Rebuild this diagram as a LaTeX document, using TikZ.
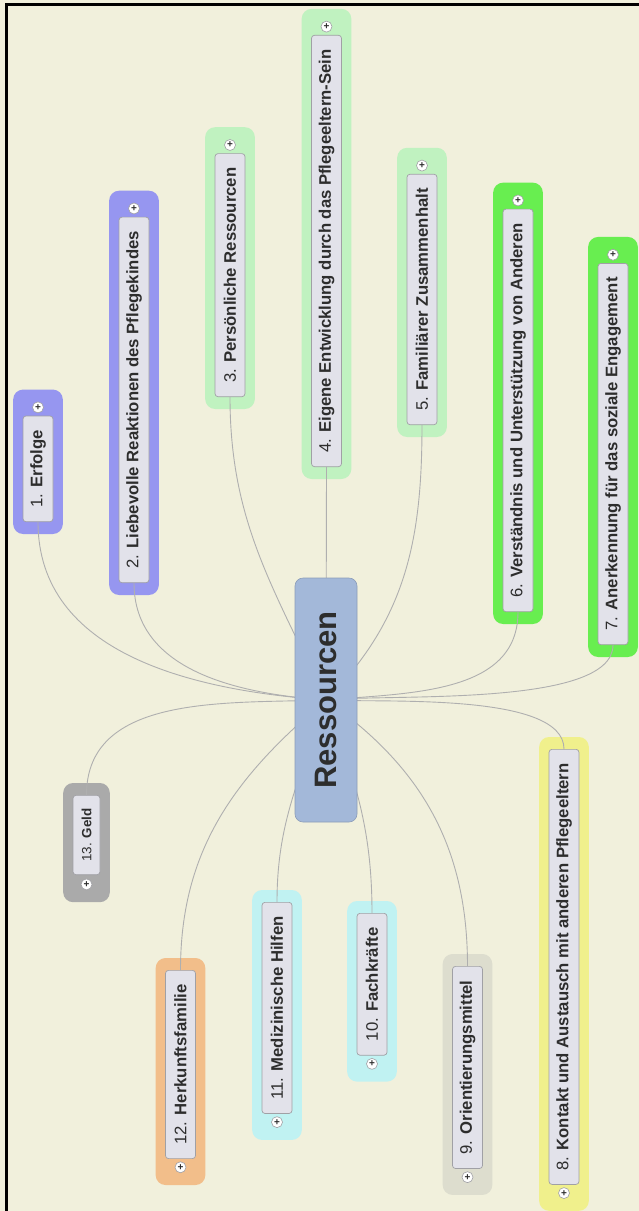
\documentclass[tikz,border=0pt]{standalone}
\usepackage{fontspec}
\setmainfont{Liberation Sans}
\usepackage{tikz}
\usetikzlibrary{positioning, fit, backgrounds}

\definecolor{paper}{RGB}{241, 240, 220}
\definecolor{boxFill}{RGB}{226, 226, 234}
\definecolor{boxLine}{RGB}{160, 160, 165}
\definecolor{linkGrey}{RGB}{175, 175, 175}
\definecolor{textGrey}{RGB}{45, 45, 45}
\definecolor{hubBlue}{RGB}{163, 184, 217}
\definecolor{haloViolet}{RGB}{150, 150, 240}
\definecolor{haloMint}{RGB}{192, 242, 192}
\definecolor{haloGreen}{RGB}{104, 238, 80}
\definecolor{haloYellow}{RGB}{240, 240, 140}
\definecolor{haloStone}{RGB}{221, 221, 206}
\definecolor{haloCyan}{RGB}{192, 242, 242}
\definecolor{haloOrange}{RGB}{242, 190, 138}
\definecolor{haloGrey}{RGB}{170, 170, 170}

\begin{document}
\begin{tikzpicture}[
    x=1pt, y=1pt,
    topic/.style={rectangle, rotate=90, draw=boxLine, fill=boxFill, line width=0.7pt,
                  rounded corners=3pt, minimum height=30pt, inner xsep=14pt, inner ysep=0pt,
                  text=textGrey, font=\fontsize{16.7}{20}\selectfont},
    smalltopic/.style={topic, minimum height=27pt, inner xsep=13pt,
                  font=\fontsize{13.4}{16}\selectfont},
    plus/.style={circle, draw=boxLine, fill=white, line width=0.6pt, minimum size=11pt,
                 inner sep=0pt, text=textGrey, font=\fontsize{10}{10}\bfseries\selectfont},
    halo/.style={rectangle, rounded corners=10pt, inner xsep=9.5pt, inner ysep=12pt},
    link/.style={draw=linkGrey, line width=0.9pt},
    hub/.style={rectangle, rotate=90, draw=hubBlue!85!black, fill=hubBlue, line width=0.6pt,
                rounded corners=8pt, minimum width=244pt, minimum height=62pt,
                text=textGrey, font=\fontsize{31}{36}\bfseries\selectfont},
  ]
  \useasboundingbox (0,0) rectangle (639,-1211);
  \begin{scope}[on background layer]
    \fill[paper] (0,0) rectangle (639,-1211);
  \end{scope}

  % upper branches
  \node[topic, anchor=west] (erfolge) at (38,-522) {1. \textbf{Erfolge}};
  \node[plus, above=2.5pt of erfolge.east] (erfolgeP) {+};

  \node[topic, anchor=west] (reaktion) at (134,-583) {2. \textbf{Liebevolle Reaktionen des Pflegekindes}};
  \node[plus, above=2.5pt of reaktion.east] (reaktionP) {+};

  \node[topic, anchor=west] (person) at (230,-397) {3. \textbf{Persönliche Ressourcen}};
  \node[plus, above=2.5pt of person.east] (personP) {+};

  \node[topic, anchor=west] (entwicklung) at (326.5,-467) {4. \textbf{Eigene Entwicklung durch das Pflegeeltern-Sein}};
  \node[plus, above=2.5pt of entwicklung.east] (entwicklungP) {+};

  \node[topic, anchor=west] (familie) at (422,-425) {5. \textbf{Familiärer Zusammenhalt}};
  \node[plus, above=2.5pt of familie.east] (familieP) {+};

  \node[topic, anchor=west] (verstaendnis) at (518,-612) {6. \textbf{Verständnis und Unterstützung von Anderen}};
  \node[plus, above=2.5pt of verstaendnis.east] (verstaendnisP) {+};

  \node[topic, anchor=west] (anerkennung) at (613,-645) {7. \textbf{Anerkennung für das soziale Engagement}};
  \node[plus, above=2.5pt of anerkennung.east] (anerkennungP) {+};

  % lower branches
  \node[topic, anchor=east] (kontakt) at (564,-749) {8. \textbf{Kontakt und Austausch mit anderen Pflegeeltern}};
  \node[plus, below=2.5pt of kontakt.west] (kontaktP) {+};

  \node[topic, anchor=east] (orient) at (467.5,-966) {9. \textbf{Orientierungsmittel}};
  \node[plus, below=2.5pt of orient.west] (orientP) {+};

  \node[topic, anchor=east] (fach) at (372,-913) {10. \textbf{Fachkräfte}};
  \node[plus, below=2.5pt of fach.west] (fachP) {+};

  \node[topic, anchor=east] (medizin) at (277,-902) {11. \textbf{Medizinische Hilfen}};
  \node[plus, below=2.5pt of medizin.west] (medizinP) {+};

  \node[topic, anchor=east] (herkunft) at (180.5,-970) {12. \textbf{Herkunftsfamilie}};
  \node[plus, below=2.5pt of herkunft.west] (herkunftP) {+};

  \node[smalltopic, anchor=east] (geld) at (86.5,-795) {13. \textbf{Geld}};
  \node[plus, below=3.5pt of geld.west] (geldP) {+};

  % coloured halos
  \begin{scope}[on background layer]
    \node[halo, fill=haloViolet, fit=(erfolge)(erfolgeP)] (erfolgeH) {};
    \node[halo, fill=haloViolet, fit=(reaktion)(reaktionP)] (reaktionH) {};
    \node[halo, fill=haloMint, fit=(person)(personP)] (personH) {};
    \node[halo, fill=haloMint, fit=(entwicklung)(entwicklungP)] (entwicklungH) {};
    \node[halo, fill=haloMint, fit=(familie)(familieP)] (familieH) {};
    \node[halo, fill=haloGreen, fit=(verstaendnis)(verstaendnisP)] (verstaendnisH) {};
    \node[halo, fill=haloGreen, fit=(anerkennung)(anerkennungP)] (anerkennungH) {};
    \node[halo, fill=haloYellow, fit=(kontakt)(kontaktP)] (kontaktH) {};
    \node[halo, fill=haloStone, fit=(orient)(orientP)] (orientH) {};
    \node[halo, fill=haloCyan, fit=(fach)(fachP)] (fachH) {};
    \node[halo, fill=haloCyan, fit=(medizin)(medizinP)] (medizinH) {};
    \node[halo, fill=haloOrange, fit=(herkunft)(herkunftP)] (herkunftH) {};
    \node[halo, fill=haloGrey, fit=(geld)(geldP)] (geldH) {};
  \end{scope}

  % connectors
  \coordinate (hubC) at (326,-700);
  \draw[link] (hubC) to[out=176, in=-90] (erfolge.west);
  \draw[link] (hubC) to[out=176, in=-90] (reaktion.west);
  \draw[link] (hubC) to[out=115, in=-90] (person.west);
  \draw[link] (hubC) -- (entwicklung.west);
  \draw[link] (hubC) to[out=45, in=-90] (familie.west);
  \draw[link] (hubC) to[out=5, in=-90] (verstaendnis.west);
  \draw[link] (hubC) to[out=6, in=-90, looseness=0.55] (anerkennung.west);
  \draw[link] (hubC) to[out=-3, in=90, looseness=0.6] (kontakt.east);
  \draw[link] (hubC) to[out=-35, in=90] (orient.east);
  \draw[link] (hubC) to[out=-70, in=90] (fach.east);
  \draw[link] (hubC) to[out=-108, in=90] (medizin.east);
  \draw[link] (hubC) to[out=-140, in=90] (herkunft.east);
  \draw[link] (hubC) to[out=-178, in=90] (geld.east);

  % central topic
  \node[hub] (ressourcen) at (hubC) {Ressourcen};

  % frame
  \draw[line width=2.8pt] (639,-4.5) -- (6.2,-4.5) -- (6.2,-1211);
\end{tikzpicture}
\end{document}
